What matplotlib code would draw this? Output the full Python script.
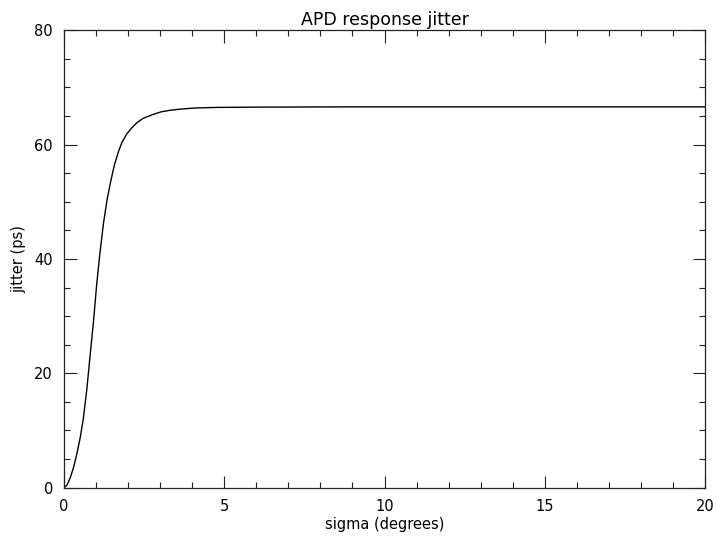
"""APD response jitter vs. sigma, IDL-style line plot."""

import matplotlib

matplotlib.use("Agg")
import matplotlib.pyplot as plt
from matplotlib.ticker import MultipleLocator

# values
sigma = [0.0, 0.09, 0.20, 0.30, 0.40, 0.51, 0.60, 0.71, 0.81, 0.915,
         1.02, 1.12, 1.23, 1.35, 1.44, 1.52, 1.59, 1.70, 1.80, 1.95,
         2.11, 2.27, 2.47, 2.79, 3.05, 3.31, 3.62, 4.10, 4.76, 6.0, 8.9,
         12.0, 16.0, 20.0]
jitter = [0.0, 0.4, 1.8, 3.6, 5.9, 8.9, 12.0, 17.1, 22.9, 28.8,
          35.6, 41.0, 46.2, 50.6, 53.1, 55.2, 56.8, 58.8, 60.3, 61.8,
          62.9, 63.8, 64.6, 65.3, 65.75, 66.0, 66.2, 66.4, 66.5, 66.55, 66.6,
          66.6, 66.6, 66.6]

x_ticks = [0, 5, 10, 15, 20]
y_ticks = [0, 20, 40, 60, 80]

fig = plt.figure(figsize=(7.17, 5.40), dpi=100)
ax = fig.add_axes([0.0893, 0.097, 0.894, 0.847])

ax.plot(sigma, jitter, color="black", linewidth=1.0, solid_joinstyle="round")

ax.set_xlim(0, 20)
ax.set_ylim(0, 80)
ax.set_xticks(x_ticks)
ax.set_yticks(y_ticks)
ax.xaxis.set_minor_locator(MultipleLocator(1))
ax.yaxis.set_minor_locator(MultipleLocator(5))
ax.tick_params(which="both", direction="in", top=True, right=True,
               labelsize=10.5, width=0.8, color="#222222")
ax.tick_params(which="major", length=9, pad=8)
ax.tick_params(which="minor", length=4.5)
for spine in ax.spines.values():
    spine.set_linewidth(0.9)
    spine.set_color("#222222")

ax.set_title("APD response jitter", fontsize=12.5, pad=4)
ax.set_xlabel("sigma (degrees)", fontsize=10.5, labelpad=2)
ax.set_ylabel("jitter (ps)", fontsize=10.5, labelpad=6)

fig.savefig("out.png", dpi=100)
